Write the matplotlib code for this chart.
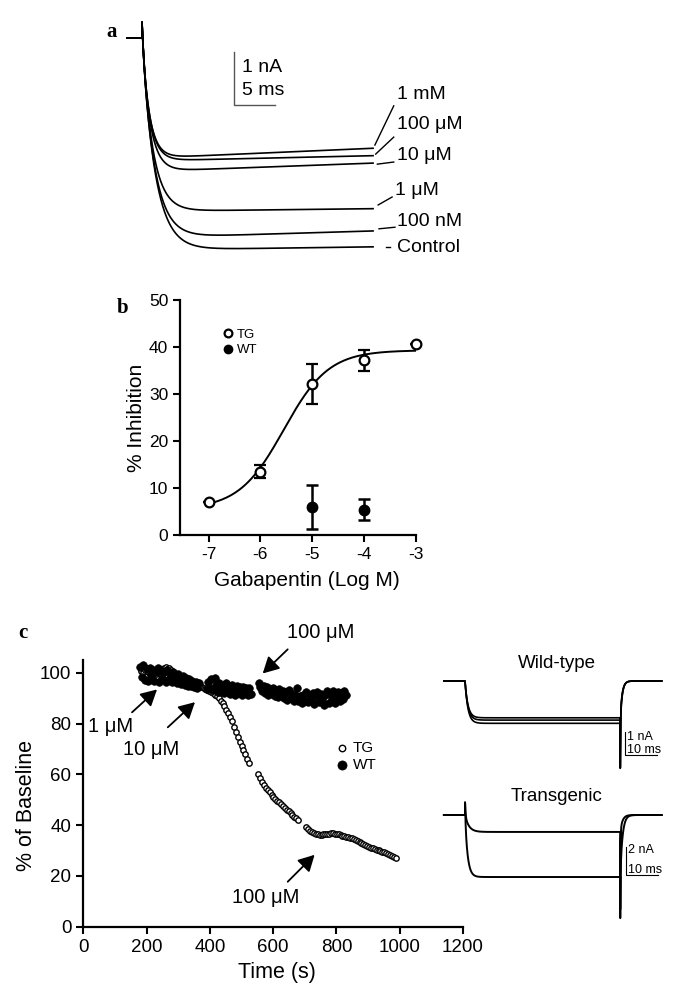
import numpy as np
import matplotlib.pyplot as plt

plt.rcParams['font.family'] = ['Liberation Sans', 'DejaVu Sans']
plt.rcParams['axes.unicode_minus'] = False

# panel a: current traces, one per gabapentin concentration
conc_labels = ['1 mM', '100 μM', '10 μM', '1 μM', '100 nM', 'Control']
amp_start = [2.27, 2.32, 2.52, 3.27, 3.77, 4.00]   # nA early in the pulse
amp_end = [2.08, 2.22, 2.36, 3.22, 3.64, 3.94]     # nA at end of the trace
tau_on = [0.90, 0.93, 1.00, 1.30, 1.50, 1.60]      # ms
cap_spike = 0.30     # nA
trace_len = 28.2     # ms

# panel b: concentration response
log_conc = [-7, -6, -5, -4, -3]
tg_inhib = [7.1, 13.5, 32.1, 37.2, 40.7]
tg_err = [0.0, 1.3, 4.2, 2.2, 0.0]
wt_log_conc = [-5, -4]
wt_inhib = [5.9, 5.4]
wt_err = [4.7, 2.3]
fit_bottom, fit_top, fit_logec50, fit_hill = 5.5, 39.3, -5.55, 1.0

# panel c: time course (% of baseline), sampled every 6 s (TG) / 5 s (WT)
tg_seg_starts = [182, 553, 705]
tg_seg_stops = [524, 679, 987]
tg_step = 6
tg_vals = [
    [100.5, 99.8, 100.9, 99.2, 100.3, 99.6, 98.8, 100.2, 99.5, 100.8,
     99.9, 101.3, 101.8, 102.2, 101.6, 102.0, 100.9, 99.8, 99.2, 98.9,
     98.4, 98.0, 97.6, 97.1, 96.8, 96.3, 96.0, 95.6, 95.2, 94.9,
     94.6, 94.4, 94.2, 94.0, 93.7, 93.3, 92.9, 92.4, 91.9, 91.4,
     90.8, 90.0, 89.0, 88.0, 86.8, 85.4, 84.0, 82.6, 80.8, 78.8,
     76.6, 74.5, 72.6, 71.0, 69.4, 67.9, 66.2, 64.4],
    [60.0, 58.4, 57.0, 55.8, 54.8, 53.8, 52.9, 52.0, 51.2, 50.4,
     49.6, 48.9, 48.2, 47.5, 46.8, 46.1, 45.4, 44.7, 44.0, 43.3,
     42.6, 41.9],
    [39.3, 38.4, 37.7, 37.2, 36.8, 36.5, 36.3, 36.2, 36.2, 36.3,
     36.4, 36.5, 36.6, 36.7, 36.7, 36.6, 36.5, 36.3, 36.1, 35.9,
     35.6, 35.4, 35.2, 35.0, 34.8, 34.5, 34.2, 33.8, 33.4, 33.0,
     32.6, 32.2, 31.8, 31.4, 31.1, 30.9, 30.6, 30.3, 30.1, 29.8,
     29.6, 29.3, 29.0, 28.7, 28.3, 27.9, 27.5, 27.1],
]
wt_seg_starts = [180, 390, 555]
wt_seg_stops = [365, 530, 830]
wt_step = 5
wt_vals = [
    [102.2, 98.3, 103.1, 97.2, 101.4, 96.6, 102.0, 99.1, 101.2, 96.9,
     100.3, 102.0, 96.5, 100.8, 97.9, 100.4, 96.3, 101.0, 97.5, 99.8,
     96.2, 100.1, 97.8, 95.9, 99.3, 96.7, 95.5, 98.6, 95.3, 97.9,
     94.9, 97.4, 94.6, 96.8, 94.2, 96.4, 93.9, 95.8],
    [93.4, 96.3, 93.9, 97.4, 93.1, 97.8, 95.2, 92.3, 96.0, 93.2,
     95.3, 91.9, 95.8, 92.7, 94.8, 91.6, 95.3, 92.9, 91.4, 94.7,
     92.1, 94.4, 91.2, 94.5, 92.0, 94.1, 91.3, 93.9, 91.7],
    [96.0, 94.3, 92.8, 94.9, 92.0, 94.2, 91.3, 93.6, 91.6, 93.9,
     90.9, 93.0, 90.4, 93.4, 91.1, 92.8, 90.0, 92.3, 89.3, 93.2,
     90.2, 91.6, 88.9, 91.3, 93.8, 88.7, 90.9, 88.2, 91.4, 89.0,
     92.5, 88.5, 91.1, 88.8, 92.2, 87.7, 90.7, 92.4, 88.3, 91.5,
     89.2, 87.2, 91.2, 92.8, 88.0, 91.7, 89.5, 92.6, 87.9, 91.0,
     92.4, 88.7, 91.9, 89.6, 92.7, 91.4],
]

# panel c right: example step traces
pulse_len = 48.5     # ms
wt_step_amp = [1.60, 1.70, 1.84]   # nA
wt_tail = -4.43
tg_step_amp = [4.43, 1.21]         # control, 100 uM
tg_tau_on = [0.8, 1.2]
tg_tail = -8.36
tg_cap = 1.07


def step_trace(t, amp, tau, t_end, tail_peak, tau_off, cap=0.0, cap_tau=0.15):
    cur = np.zeros_like(t)
    on = (t >= 0) & (t < t_end)
    cur[on] = cap * np.exp(-t[on] / cap_tau) - amp * (1 - np.exp(-t[on] / tau))
    off = t >= t_end
    plateau = -amp * (1 - np.exp(-t_end / tau))
    dt = t[off] - t_end
    cur[off] = plateau * np.exp(-dt / tau_off) + (tail_peak - plateau) * np.exp(-dt / 0.08)
    return cur


fig = plt.figure(figsize=(6.85, 9.88), dpi=100)
W, H = 685.0, 988.0

# ---------------- a ----------------
axa = fig.add_axes([100 / W, 1 - 270 / H, 380 / W, 270 / H])
axa.set_xlim(-5.122, 41.22)
axa.set_ylim(-4.377, 0.717)
axa.axis('off')
t = np.arange(-1.8, trace_len, 0.02)
tp = np.clip(t, 0, None)
for a0, a1, tau in zip(amp_start, amp_end, tau_on):
    amp = a0 + (a1 - a0) * tp / trace_len
    cur = np.where(t < 0, 0.0, cap_spike * np.exp(-tp / 0.2) - amp * (1 - np.exp(-tp / tau)))
    axa.plot(t, cur, color='k', lw=1.2)

label_pos = [(31.1, -1.075), (31.1, -1.64), (31.1, -2.21),
             (30.9, -2.87), (31.1, -3.47), (31.1, -3.96)]
leaders = [((28.4, -2.02), (30.7, -1.28)), ((28.5, -2.19), (30.7, -1.87)),
           ((28.7, -2.38), (30.7, -2.34)), ((28.8, -3.15), (30.5, -3.0)),
           ((28.9, -3.60), (30.85, -3.57)), ((29.8, -3.94), (30.25, -3.94))]
for lab, (x, y), (p0, p1) in zip(conc_labels, label_pos, leaders):
    axa.text(x, y, lab, fontsize=14, ha='left', va='center')
    axa.plot([p0[0], p1[0]], [p0[1], p1[1]], color='k', lw=1.0)

axa.plot([11.2, 11.2, 16.2], [-0.264, -1.264, -1.264], color='#555555', lw=1.0)
axa.text(12.2, -0.56, '1 nA', fontsize=14, va='center')
axa.text(12.2, -0.99, '5 ms', fontsize=14, va='center')

# ---------------- b ----------------
axb = fig.add_axes([180 / W, 1 - 535 / H, 236 / W, 235 / H])
xs = np.linspace(-7, -3, 200)
fit = fit_bottom + (fit_top - fit_bottom) / (1 + 10 ** ((fit_logec50 - xs) * fit_hill))
axb.plot(xs, fit, color='k', lw=1.4)
axb.errorbar(log_conc, tg_inhib, yerr=tg_err, fmt='o', mfc='white', mec='k', mew=1.6,
             ms=7, ecolor='k', elinewidth=1.8, capsize=4.5, capthick=1.8,
             label='TG', clip_on=False, zorder=3)
axb.errorbar(wt_log_conc, wt_inhib, yerr=wt_err, fmt='o', mfc='k', mec='k', ms=7.5,
             ecolor='k', elinewidth=1.8, capsize=4.5, capthick=1.8,
             label='WT', clip_on=False, zorder=3)
axb.set_xlim(-7.55, -3)
axb.set_ylim(0, 50)
axb.set_xticks([-7, -6, -5, -4, -3])
axb.set_yticks([0, 10, 20, 30, 40, 50])
for s in ['top', 'right']:
    axb.spines[s].set_visible(False)
for s in ['left', 'bottom']:
    axb.spines[s].set_linewidth(1.6)
axb.tick_params(direction='out', length=5, width=1.5, labelsize=12.5)
axb.set_ylabel('% Inhibition', fontsize=15, va='center')
axb.yaxis.set_label_coords((137 - 180) / 236, 0.5)
axb.set_xlabel('Gabapentin (Log M)', fontsize=15, va='center')
axb.xaxis.set_label_coords((307 - 180) / 236, (535 - 580) / 235)
hb = [h[0] for h in axb.get_legend_handles_labels()[0]]
axb.legend(hb, ['TG', 'WT'], loc='center left', bbox_to_anchor=(0.18, 0.82),
           frameon=False, fontsize=9.5, handlelength=0.8, handletextpad=0.3,
           labelspacing=0.25, borderpad=0, borderaxespad=0, markerscale=0.8)

# ---------------- c left ----------------
axc = fig.add_axes([83.3 / W, 1 - 926.7 / H, 379.7 / W, 266.7 / H])
for start, stop, vals in zip(tg_seg_starts, tg_seg_stops, tg_vals):
    tt = np.arange(start, stop + 1, tg_step)
    axc.scatter(tt, vals, s=15, facecolors='white', edgecolors='k', linewidths=1.0,
                zorder=2, label='TG' if start == tg_seg_starts[0] else None)
for start, stop, vals in zip(wt_seg_starts, wt_seg_stops, wt_vals):
    tt = np.arange(start, stop + 1, wt_step)
    axc.scatter(tt, vals, s=30, facecolors='k', edgecolors='k', linewidths=0.5,
                zorder=3, label='WT' if start == wt_seg_starts[0] else None)
axc.set_xlim(0, 1200)
axc.set_ylim(0, 105)
axc.set_xticks(range(0, 1201, 200))
axc.set_yticks(range(0, 101, 20))
for s in ['top', 'right']:
    axc.spines[s].set_visible(False)
for s in ['left', 'bottom']:
    axc.spines[s].set_linewidth(1.6)
axc.tick_params(direction='out', length=5, width=1.5, labelsize=13.5)
axc.set_ylabel('% of Baseline', fontsize=15.5, va='center')
axc.yaxis.set_label_coords((27 - 83.3) / 379.7, 0.456)
axc.set_xlabel('Time (s)', fontsize=15.5, va='center')
axc.xaxis.set_label_coords(0.51, -0.17)
axc.legend(loc='center left', bbox_to_anchor=(0.665, 0.638), frameon=False,
           fontsize=11, handlelength=0.8, handletextpad=0.3, labelspacing=0.2,
           borderpad=0, borderaxespad=0, markerscale=1.2)

arrow = dict(arrowstyle='-|>,head_length=0.65,head_width=0.35', color='k', lw=1.3,
             mutation_scale=15, shrinkA=0, shrinkB=0)
arrows = [((567, 99.7), (646, 109.2)), ((233, 93.4), (154, 84.4)),
          ((353, 88.4), (267, 78.5)), ((731, 28.3), (646, 17.7))]
for head, tail in arrows:
    axc.annotate('', xy=head, xytext=tail, arrowprops=arrow, annotation_clip=False)
axc.text(750, 116, '100 μM', fontsize=14.5, ha='center', va='center', clip_on=False)
axc.text(87, 78.9, '1 μM', fontsize=14.5, ha='center', va='center')
axc.text(214, 69.8, '10 μM', fontsize=14.5, ha='center', va='center')
axc.text(577, 11.4, '100 μM', fontsize=14.5, ha='center', va='center')

# ---------------- c right ----------------
tr = np.arange(-6.6, 61.5, 0.02)
axw = fig.add_axes([440 / W, 1 - 790 / H, 250 / W, 140 / H])
axw.set_xlim(-7.8125, 70.3125)
axw.set_ylim(-4.739, 1.348)
axw.axis('off')
for amp in wt_step_amp:
    axw.plot(tr, step_trace(tr, amp, 0.9, pulse_len, wt_tail, 0.6), color='k', lw=1.2)
axw.text(28.75, 0.78, 'Wild-type', fontsize=13.5, ha='center', va='center')
axw.plot([50.0, 50.0, 60.0], [-2.22, -3.22, -3.22], color='k', lw=0.8)
axw.text(50.6, -2.42, '1 nA', fontsize=9, va='center')
axw.text(50.6, -3.0, '10 ms', fontsize=9, va='center')

axt = fig.add_axes([440 / W, 1 - 950 / H, 250 / W, 160 / H])
axt.set_xlim(-7.8125, 70.3125)
axt.set_ylim(-9.643, 1.786)
axt.axis('off')
for amp, tau in zip(tg_step_amp, tg_tau_on):
    axt.plot(tr, step_trace(tr, amp, tau, pulse_len, tg_tail, 0.7, cap=tg_cap),
             color='k', lw=1.4)
axt.text(28.75, 1.29, 'Transgenic', fontsize=13.5, ha='center', va='center')
axt.plot([50.3, 50.3, 60.3], [-2.29, -4.29, -4.29], color='k', lw=0.8)
axt.text(50.9, -2.5, '2 nA', fontsize=9, va='center')
axt.text(50.9, -3.93, '10 ms', fontsize=9, va='center')

# panel letters
for letter, (px, py) in zip('abc', [(112, 32), (123, 308), (23, 633)]):
    fig.text(px / W, 1 - py / H, letter, fontsize=15, fontweight='bold',
             family='Liberation Serif', ha='center', va='center')

fig.savefig('out.png', dpi=100)
